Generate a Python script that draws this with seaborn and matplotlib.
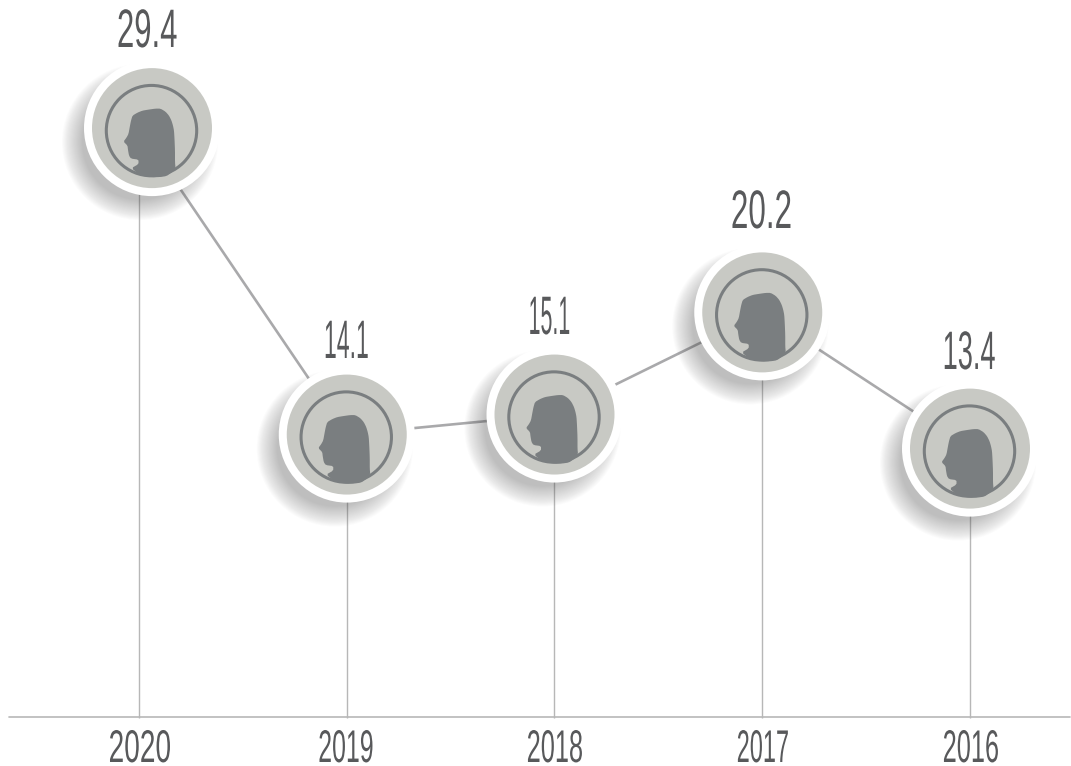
#!/usr/bin/env python3
"""Serie 2020-2016 con marcadores de silueta, fuente estrecha simulada con un path effect."""

import matplotlib

matplotlib.use("Agg")
import matplotlib.pyplot as plt
import numpy as np
import pandas as pd
import seaborn as sns
from matplotlib.patches import Circle, Polygon
from matplotlib.patheffects import AbstractPathEffect
from matplotlib.transforms import Affine2D

years = ["2020", "2019", "2018", "2017", "2016"]
values = [29.4, 14.1, 15.1, 20.2, 13.4]
value_labels = ["29.4", "14.1", "15.1", "20.2", "13.4"]

WIDTH, HEIGHT = 1071, 766
X_SCALE, Y_SCALE = 207.75, 20.03
X0_PX, Y0_PX = 139, 717
LINE = "#a9a9ab"
STEM = "#b7b7b7"
TEXT = "#58595b"
DISC = "#c8c9c4"
HEAD = "#7a7e80"

# centro x, linea base y ancho de cada rotulo (px)
value_layout = [(147, 47, 58), (346, 358, 42), (549, 334, 39), (761.5, 228, 58), (968.5, 369, 50)]
year_layout = [(140, 762, 60), (346, 762, 53), (555, 762, 54), (763, 762, 50), (971, 762, 54)]
# el primer marcador va desplazado respecto a su linea
marker_shift = [13, 0, 0, 0, 0]

# contorno de la silueta, px relativos al centro del anillo (y hacia arriba)
HEAD_SHAPE = [
    (4, 22), (-3, 21), (-9, 20), (-14, 18), (-19, 15), (-20.5, 10), (-21.5, 5), (-23, -3.3),
    (-25, -7), (-28, -11), (-24, -15), (-23.5, -19.3), (-22.5, -25), (-20.5, -28), (-13, -29),
    (-13, -33.5), (-20, -37.5), (-13, -43.3), (-6, -45), (0, -46.5), (8, -46.5), (15, -45.5), (20, -42),
    (24, -37), (23.5, -31.7), (23.5, -20), (23, -8), (22.5, 0), (21.5, 5), (20, 10), (17.5, 15),
    (14, 19), (9, 22),
]


class Condensed(AbstractPathEffect):
    """Ajusta el texto a un ancho en px y, si hace falta, lo alarga desde su linea base."""

    def __init__(self, width_px, sy=1.0):
        super().__init__()
        self.width_px = width_px
        self.sy = sy

    def draw_path(self, renderer, gc, tpath, affine, rgbFace=None):
        ext = tpath.transformed(affine).get_extents()
        cx = (ext.x0 + ext.x1) / 2
        base_y = affine.transform((0, 0))[1]
        squeeze = (
            Affine2D()
            .translate(-cx, -base_y)
            .scale(self.width_px / ext.width, self.sy)
            .translate(cx, base_y)
        )
        renderer.draw_path(gc, tpath, affine + squeeze, rgbFace)


def px_to_data(x_px, y_px):
    return (x_px - X0_PX) / X_SCALE, (Y0_PX - y_px) / Y_SCALE


def smooth(points):
    # una pasada de Chaikin para quitar las esquinas del poligono
    pts = np.asarray(points, dtype=float)
    nxt = np.roll(pts, -1, axis=0)
    out = np.empty((len(pts) * 2, 2))
    out[0::2] = 0.8 * pts + 0.2 * nxt
    out[1::2] = 0.2 * pts + 0.8 * nxt
    return out


sns.set_theme(style="white")
plt.rcParams["font.family"] = ["Liberation Sans", "DejaVu Sans"]

fig = plt.figure(figsize=(WIDTH / 100, HEIGHT / 100), dpi=100)
ax = fig.add_axes([0, 0, 1, 1])
ax.set_xlim(-X0_PX / X_SCALE, (WIDTH - X0_PX) / X_SCALE)
ax.set_ylim(-(HEIGHT - Y0_PX) / Y_SCALE, Y0_PX / Y_SCALE)
ax.axis("off")

pos = np.arange(len(years))
df = pd.DataFrame({"pos": pos, "value": values})
sns.lineplot(data=df, x="pos", y="value", color=LINE, linewidth=1.9, ax=ax, zorder=1, legend=False)
ax.vlines(pos, -0.05, values, color=STEM, linewidth=1.0, zorder=1)

x0, _ = px_to_data(9, 0)
x1, _ = px_to_data(1070, 0)
ax.plot([x0, x1], [0, 0], color=STEM, linewidth=1.2, zorder=1)

head_pts = smooth(HEAD_SHAPE)

for p, v, shift in zip(pos, values, marker_shift):
    cx, cy = ax.transData.transform((p, v))
    base = Affine2D().translate(cx + shift, cy)

    # sombra difusa hacia abajo a la izquierda
    for r in np.linspace(78, 58, 20):
        ax.add_patch(Circle((-12, -14), r, fc="#555555", ec="none", alpha=0.019, transform=base, zorder=3))
    ax.add_patch(Circle((0, 0), 68, fc="white", ec="none", transform=base, zorder=4))
    ax.add_patch(Circle((0, 0), 60, fc=DISC, ec="none", transform=base, zorder=5))
    inner = Affine2D().translate(-0.5, -2.5) + base
    ax.add_patch(Polygon(head_pts, closed=True, fc=HEAD, ec="none", transform=inner, zorder=6))
    ax.add_patch(Circle((0, 0), 45.2, fc="none", ec=HEAD, linewidth=2.2, transform=inner, zorder=7))

for lab, (lx, ly, w) in zip(value_labels, value_layout):
    xd, yd = px_to_data(lx, ly)
    t = ax.text(xd, yd, lab, ha="center", va="baseline", fontsize=39, color=TEXT, zorder=8)
    t.set_path_effects([Condensed(w)])

# cuerpo pequeño y alargado: la linea base queda a 4 px del borde inferior
for year, (lx, ly, w) in zip(years, year_layout):
    xd, yd = px_to_data(lx, ly)
    t = ax.text(xd, yd, year, ha="center", va="baseline", fontsize=14, color=TEXT, zorder=8)
    t.set_path_effects([Condensed(w, sy=33 / 14)])

fig.savefig("out.png", dpi=100, facecolor="white")
plt.close(fig)
